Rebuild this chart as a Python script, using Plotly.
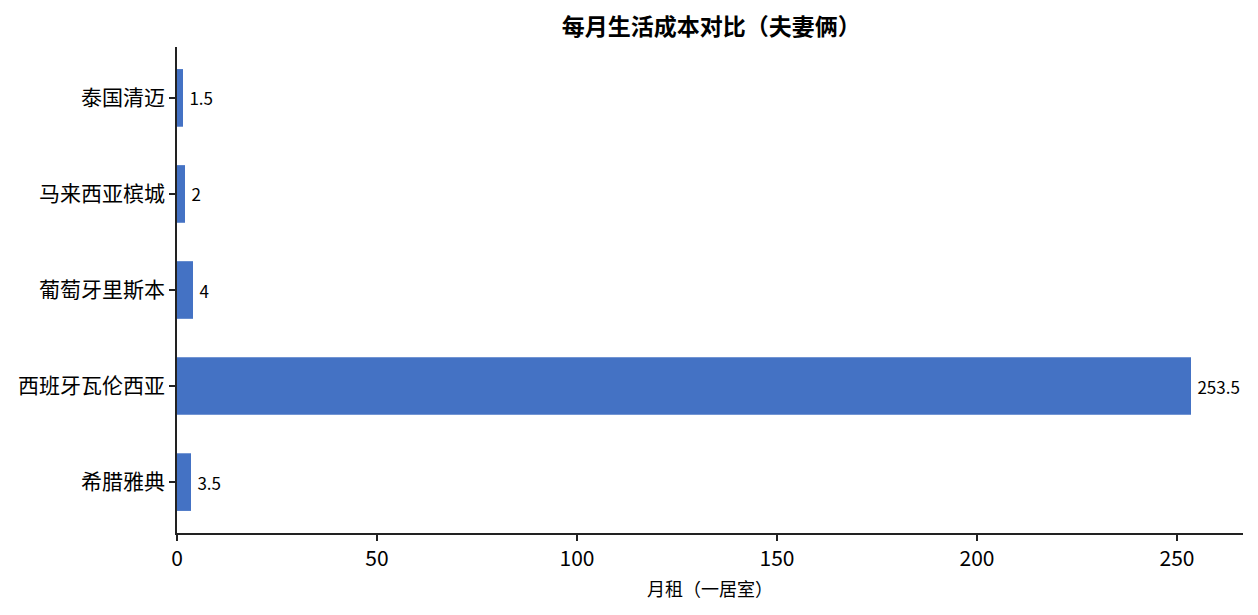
import plotly.graph_objects as go

cities = ['希腊雅典', '西班牙瓦伦西亚', '葡萄牙里斯本', '马来西亚槟城', '泰国清迈']
rent = [3.5, 253.5, 4, 2, 1.5]
rent_labels = ['3.5', '253.5', '4', '2', '1.5']

font_family = 'Noto Sans CJK SC'

fig = go.Figure(go.Bar(
    y=cities, x=rent, orientation='h',
    marker=dict(color='#4472C4', line=dict(width=0)),
    width=0.6,
    text=['\u2009' + t for t in rent_labels], textposition='outside', cliponaxis=False,
    textfont=dict(size=17, color='black', family=font_family),
))

# page body has an 8px margin, so the figure is a bit smaller than the window
fig.update_layout(
    width=1250, height=607,
    margin=dict(l=169, r=15, t=39, b=82),
    plot_bgcolor='white', paper_bgcolor='white',
    font=dict(family=font_family, color='black'),
    title=dict(text='<b>每月生活成本对比（夫妻俩）</b>', x=0.5625, xanchor='center',
               y=0.968, yanchor='middle', font=dict(size=23)),
    showlegend=False,
)
fig.update_xaxes(
    range=[0, 266.5], tickvals=[0, 50, 100, 150, 200, 250],
    showline=True, linecolor='#222', linewidth=1.5,
    ticks='outside', ticklen=6, tickwidth=1.5, tickcolor='#222',
    showgrid=False, zeroline=False, automargin=False,
    tickfont=dict(size=21),
    title=dict(text='月租（一居室）', font=dict(size=18), standoff=12),
)
fig.update_yaxes(
    range=[-0.53, 4.53],
    showline=True, linecolor='#222', linewidth=1.5,
    ticks='outside', ticklen=6, tickwidth=1.5, tickcolor='#222',
    showgrid=False, zeroline=False, automargin=False,
    tickfont=dict(size=21),
)

fig.write_html('out.html')
